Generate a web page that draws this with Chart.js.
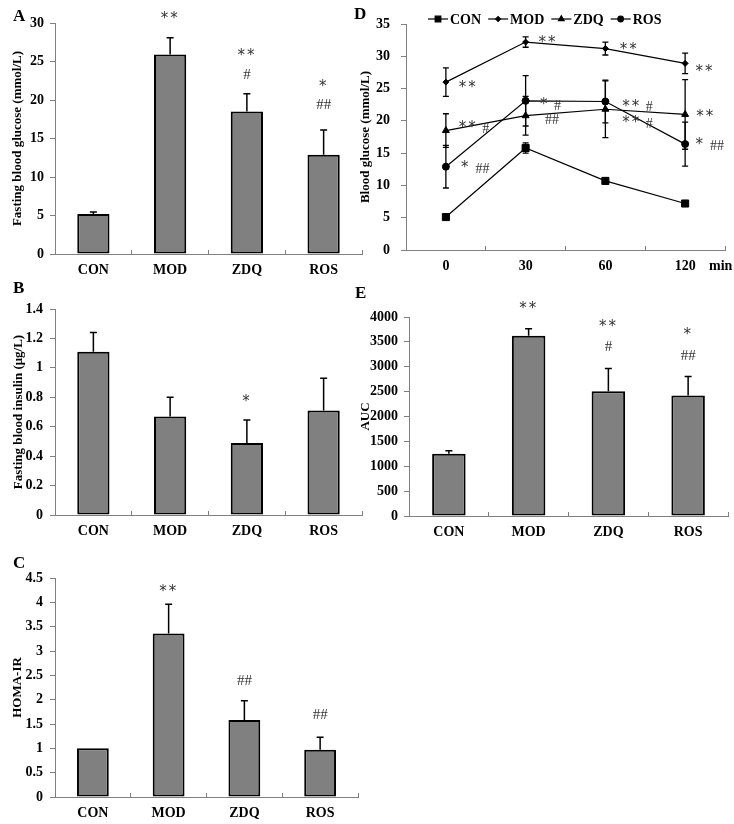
<!DOCTYPE html>
<html>
<head>
<meta charset="utf-8">
<script src="https://cdn.jsdelivr.net/npm/chart.js@4/dist/chart.umd.min.js"></script>
<style>
  body { margin: 0; background: #fff; width: 734px; height: 824px; position: relative; overflow: hidden; }
  canvas { position: absolute; }
  .tag { position: absolute; font: bold 17px 'Liberation Serif', 'Times New Roman', serif; line-height: 1; color: #000; }
  .unit { position: absolute; font: bold 14px 'Liberation Serif', 'Times New Roman', serif; line-height: 1; color: #000; }
</style>
</head>
<body>
<canvas id="chartA" width="370" height="280" style="left:0;top:0"></canvas>
<canvas id="chartB" width="370" height="270" style="left:0;top:280px"></canvas>
<canvas id="chartC" width="370" height="274" style="left:0;top:550px"></canvas>
<canvas id="chartD" width="394" height="280" style="left:340px;top:0"></canvas>
<canvas id="chartE" width="394" height="270" style="left:340px;top:280px"></canvas>

<div class="tag" style="left:13px;top:7px">A</div>
<div class="tag" style="left:13px;top:279px">B</div>
<div class="tag" style="left:13px;top:554px">C</div>
<div class="tag" style="left:354px;top:5px">D</div>
<div class="tag" style="left:355px;top:284px">E</div>
<div class="unit" style="left:709px;top:259px">min</div>

<script>
// Groups and time points
const groups = ['CON', 'MOD', 'ZDQ', 'ROS'];
const timePoints = ['0', '30', '60', '120'];

// A: fasting blood glucose (mmol/L)
const glucoseMean = [5.2, 25.9, 18.5, 12.9];
const glucoseErr = [0.25, 2.2, 2.3, 3.2];
const glucoseMarks = [['**', 1, 31.2], ['**', 2, 26.3], ['#', 2, 23.4], ['*', 3, 22.4], ['##', 3, 19.5]];

// B: fasting blood insulin (ug/L)
const insulinMean = [1.11, 0.67, 0.49, 0.71];
const insulinErr = [0.13, 0.13, 0.155, 0.22];
const insulinMarks = [['*', 2, 0.80]];

// C: HOMA-IR
const homaMean = [1.0, 3.36, 1.58, 0.97];
const homaErr = [0, 0.6, 0.4, 0.26];
const homaMarks = [['**', 1, 4.31], ['##', 2, 2.41], ['##', 3, 1.71]];

// D: blood glucose during OGTT (mmol/L)
const ogttCON = [5.1, 15.8, 10.7, 7.2];
const ogttCONErr = [0.2, 0.8, 0.4, 0.2];
const ogttMOD = [26.0, 32.2, 31.2, 28.9];
const ogttMODErr = [2.2, 0.8, 1.0, 1.6];
const ogttZDQ = [18.5, 20.8, 21.8, 21.0];
const ogttZDQErr = [2.6, 3.0, 4.4, 5.4];
const ogttROS = [12.9, 23.1, 23.0, 16.4];
const ogttROSErr = [3.3, 3.9, 3.3, 3.4];
const ogttMarks = [
  ['**', 0.28, 25.9], ['**', 1.28, 32.8], ['**', 2.3, 31.7], ['**', 3.25, 28.3],
  ['**', 0.28, 19.7], ['#', 0.5, 18.9],
  ['*', 0.25, 13.5], ['##', 0.46, 12.7],
  ['*', 1.24, 23.2], ['#', 1.4, 22.5], ['##', 1.33, 20.3],
  ['**', 2.33, 22.9], ['#', 2.55, 22.3],
  ['**', 2.33, 20.4], ['#', 2.55, 19.7],
  ['**', 3.26, 21.4], ['*', 3.19, 17.0], ['##', 3.4, 16.3]
];

// E: AUC
const aucMean = [1250, 3624, 2508, 2420];
const aucErr = [60, 140, 455, 385];
const aucMarks = [['**', 1, 4269], ['**', 2, 3899], ['#', 2, 3422], ['*', 3, 3731], ['##', 3, 3240]];

const serif = "'Liberation Serif', 'Times New Roman', serif";
Chart.defaults.font.family = serif;
Chart.defaults.font.weight = 'bold';
Chart.defaults.color = '#000';
Chart.defaults.animation = false;

// error bars: upward only for bars, both ways for the line chart
const errorBarPlugin = {
  id: 'errorBars',
  afterDatasetsDraw(chart, args, opts) {
    const ctx = chart.ctx;
    const yScale = chart.scales.y;
    ctx.save();
    ctx.strokeStyle = '#000';
    ctx.lineWidth = opts.lineWidth;
    chart.data.datasets.forEach((ds, i) => {
      const errs = opts.errors[i];
      if (!errs) return;
      chart.getDatasetMeta(i).data.forEach((el, j) => {
        const e = errs[j];
        if (!e) return;
        const v = ds.data[j];
        const top = yScale.getPixelForValue(v + e);
        const bottom = opts.both ? yScale.getPixelForValue(v - e) : el.y;
        ctx.beginPath();
        ctx.moveTo(el.x, bottom);
        ctx.lineTo(el.x, top);
        ctx.moveTo(el.x - opts.cap, top);
        ctx.lineTo(el.x + opts.cap, top);
        if (opts.both) {
          ctx.moveTo(el.x - opts.cap, bottom);
          ctx.lineTo(el.x + opts.cap, bottom);
        }
        ctx.stroke();
      });
    });
    ctx.restore();
  }
};

// significance marks (* vs CON, # vs MOD)
const sigMarkPlugin = {
  id: 'sigMarks',
  afterDraw(chart, args, opts) {
    const ctx = chart.ctx;
    const xs = chart.scales.x, ys = chart.scales.y;
    ctx.save();
    ctx.fillStyle = '#333';
    ctx.textAlign = 'center';
    ctx.textBaseline = 'alphabetic';
    opts.items.forEach(([text, idx, val]) => {
      const x = xs.getPixelForValue(idx);
      const y = ys.getPixelForValue(val);
      if (text.charAt(0) === '*') {
        ctx.font = opts.starSize + "px 'DejaVu Sans', sans-serif";
        ctx.letterSpacing = '2px';
        ctx.fillText(text, x, y + opts.starSize * 0.6);
      } else {
        ctx.font = opts.hashSize + 'px ' + serif;
        ctx.letterSpacing = '0px';
        ctx.fillText(text, x, y + opts.hashSize * 0.35);
      }
    });
    ctx.restore();
  }
};

// legend with line + marker like the original
const lineLegendPlugin = {
  id: 'lineLegend',
  afterDraw(chart, args, opts) {
    const ctx = chart.ctx;
    let x = opts.x;
    const y = opts.y;
    ctx.save();
    ctx.font = 'bold 14px ' + serif;
    ctx.textBaseline = 'middle';
    ctx.fillStyle = '#000';
    ctx.strokeStyle = '#000';
    chart.data.datasets.forEach(ds => {
      ctx.lineWidth = 1.2;
      ctx.beginPath();
      ctx.moveTo(x, y);
      ctx.lineTo(x + 20, y);
      ctx.stroke();
      Chart.helpers.drawPoint(ctx, {pointStyle: ds.pointStyle, radius: ds.pointRadius * 0.8, rotation: 0, borderWidth: 1}, x + 10, y);
      x += 22;
      ctx.fillText(ds.label, x, y + 1);
      x += ctx.measureText(ds.label).width + 7;
    });
    ctx.restore();
  }
};

function plainTick(v) {
  return String(Number(v.toFixed(2)));
}

function yAxis(max, step, title, yWidth, tickPad, titlePad) {
  return {
    min: 0,
    max: max,
    border: { color: '#808080', width: 1 },
    grid: { drawOnChartArea: false, tickLength: 5, color: '#808080' },
    ticks: { stepSize: step, padding: tickPad, font: { size: 14 }, callback: plainTick },
    title: { display: true, text: title, font: { size: 13 }, padding: { top: titlePad, bottom: 0 } },
    afterFit: s => { s.width = yWidth; }
  };
}

function xAxis(xHeight) {
  return {
    offset: true,
    border: { color: '#808080', width: 1 },
    grid: { offset: true, drawOnChartArea: false, tickLength: -4, color: '#808080' },
    ticks: { padding: 12, font: { size: 14 } },
    afterFit: s => { s.height = xHeight; }
  };
}

function barChart(id, values, errors, marks, yOpts, layout) {
  new Chart(document.getElementById(id), {
    type: 'bar',
    data: {
      labels: groups,
      datasets: [{
        data: values,
        backgroundColor: '#808080',
        borderColor: '#000',
        borderWidth: 2,
        borderSkipped: false,
        categoryPercentage: 1,
        barPercentage: 0.42
      }]
    },
    options: {
      responsive: false,
      layout: { padding: layout.padding },
      plugins: {
        legend: { display: false },
        tooltip: { enabled: false },
        errorBars: { errors: [errors], both: false, cap: 3.5, lineWidth: 1.5 },
        sigMarks: { items: marks, starSize: 15, hashSize: 15 }
      },
      scales: {
        x: xAxis(layout.xHeight),
        y: yOpts
      }
    },
    plugins: [errorBarPlugin, sigMarkPlugin]
  });
}

barChart('chartA', glucoseMean, glucoseErr, glucoseMarks,
  yAxis(30, 5, 'Fasting blood glucose (mmol/L)', 55, 6, 10),
  { padding: { top: 23, right: 8, left: 0, bottom: 0 }, xHeight: 26 });

barChart('chartB', insulinMean, insulinErr, insulinMarks,
  yAxis(1.4, 0.2, 'Fasting blood insulin (\u03bcg/L)', 55, 7, 11),
  { padding: { top: 29, right: 8, left: 0, bottom: 0 }, xHeight: 35 });

barChart('chartC', homaMean, homaErr, homaMarks,
  yAxis(4.5, 0.5, 'HOMA-IR', 55, 7, 10),
  { padding: { top: 28, right: 12, left: 0, bottom: 0 }, xHeight: 27 });

barChart('chartE', aucMean, aucErr, aucMarks,
  yAxis(4000, 500, 'AUC', 69, 6, 18),
  { padding: { top: 37, right: 6, left: 0, bottom: 0 }, xHeight: 34 });

// D: OGTT curves
new Chart(document.getElementById('chartD'), {
  type: 'line',
  data: {
    labels: timePoints,
    datasets: [
      { label: 'CON', data: ogttCON, pointStyle: 'rect', pointRadius: 5 },
      { label: 'MOD', data: ogttMOD, pointStyle: 'rectRot', pointRadius: 3 },
      { label: 'ZDQ', data: ogttZDQ, pointStyle: 'triangle', pointRadius: 4 },
      { label: 'ROS', data: ogttROS, pointStyle: 'circle', pointRadius: 3.5 }
    ].map(ds => Object.assign(ds, {
      borderColor: '#000',
      backgroundColor: '#000',
      pointBackgroundColor: '#000',
      pointBorderColor: '#000',
      borderWidth: 1.2,
      pointBorderWidth: 1,
      tension: 0
    }))
  },
  options: {
    responsive: false,
    layout: { padding: { top: 24, right: 9, left: 0, bottom: 0 } },
    plugins: {
      legend: { display: false },
      tooltip: { enabled: false },
      errorBars: { errors: [ogttCONErr, ogttMODErr, ogttZDQErr, ogttROSErr], both: true, cap: 3, lineWidth: 1.3 },
      sigMarks: { items: ogttMarks, starSize: 15, hashSize: 14 },
      lineLegend: { x: 88, y: 19 }
    },
    scales: {
      x: xAxis(30),
      y: yAxis(35, 5, 'Blood glucose (mmol/L)', 66, 11, 18)
    }
  },
  plugins: [errorBarPlugin, sigMarkPlugin, lineLegendPlugin]
});
</script>
</body>
</html>
